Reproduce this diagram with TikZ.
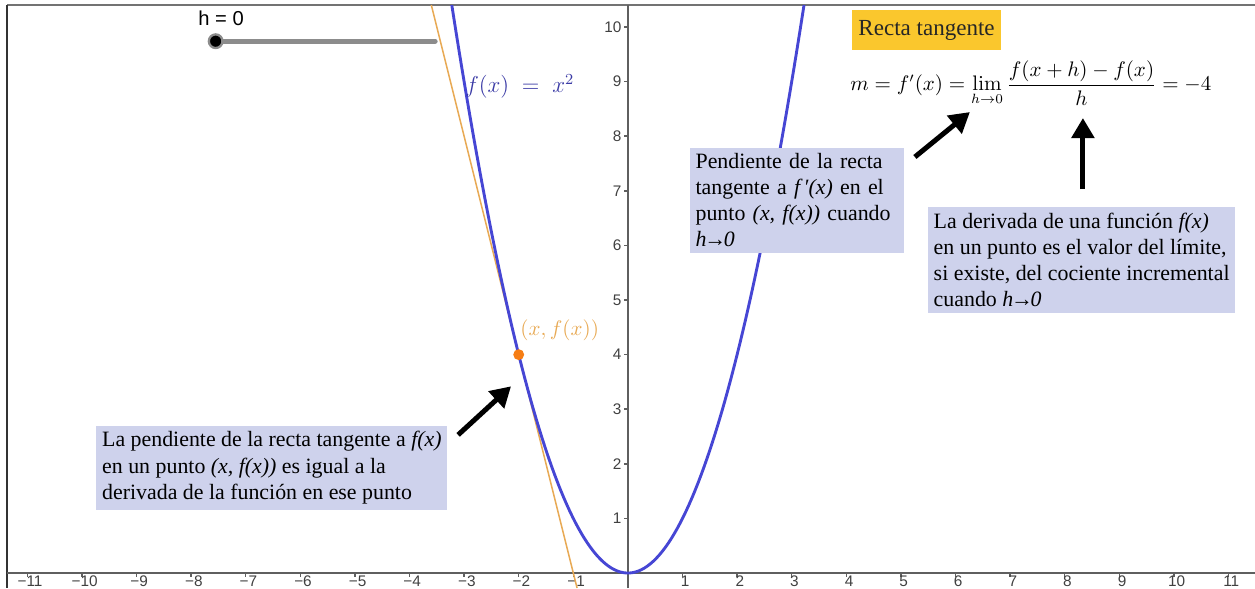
\documentclass[tikz,border=0pt]{standalone}
\usepackage[no-math]{fontspec}
\setmainfont{Liberation Serif}
\setsansfont{Liberation Sans}
\usepackage{amsmath}
\usetikzlibrary{arrows.meta, positioning}
\definecolor{curveblue}{RGB}{70,70,212}
\definecolor{labelblue}{RGB}{58,58,165}
\definecolor{tanorange}{RGB}{232,170,85}
\definecolor{ptorange}{RGB}{246,125,20}
\definecolor{boxlila}{RGB}{206,210,236}
\definecolor{titleyellow}{RGB}{250,199,45}
\definecolor{axisgray}{RGB}{95,95,95}
\newcommand{\hzero}{\textit{h\kern-1.2pt→\kern-1.2pt0}}
\tikzstyle{fatarrow} = [line width=2.6pt, -{Triangle[length=3.7mm,width=4.1mm]}]
\tikzstyle{note}     = [fill=boxlila, align=left, inner sep=3pt, font=\fontsize{11.4}{13.6}\selectfont]

\begin{document}
\begin{tikzpicture}[
        axis/.style={axisgray, line width=0.8pt},
        ticklabel/.style={font=\sffamily\fontsize{8}{9}\selectfont, text=black!75, inner sep=0pt},
        every node/.style={font=\small}
    ]

        \useasboundingbox (-11.5,-0.275) rectangle (11.485,10.495);

        % GeoGebra frame
        \draw[black!55, line width=1pt] (-11.37,10.40) -- (11.485,10.40);
        \draw[black!80, line width=1.1pt] (-11.37,10.40) -- (-11.37,-0.275);

        % axes
        \coordinate (xl) at (-11.37,0);
        \coordinate (xr) at (11.485,0);
        \coordinate (yb) at (0,-0.275);
        \coordinate (yt) at (0,10.40);
        \draw[axis] (xl) -- (xr);
        \draw[axis] (yb) -- (yt);

        \foreach \i in {1,...,11} {
            \draw[axis] (\i,0) -- (\i,-0.08);
            \draw[axis] (-\i,0) -- (-\i,-0.08);
            \node[ticklabel] at (\i+0.05,-0.15) {\i};
            \node[ticklabel] at (-\i+0.05,-0.15) {−\i};
        }
        \foreach \j in {1,...,10} {
            \draw[axis] (-0.07,\j) -- (0,\j);
            \node[ticklabel, anchor=east] at (-0.11,\j) {\j};
        }

        % curve and tangent
        \begin{scope}
            \clip (-11.37,-0.275) rectangle (11.485,10.40);
            \coordinate (tanTop) at (-3.65,10.6);
            \coordinate (tanBot) at (-0.931,-0.275);
            \draw[tanorange, line width=0.8pt] (tanTop) -- (tanBot);
            \draw[curveblue, line width=1.5pt, domain=-3.26:3.26, samples=120] plot (\x,{\x*\x});
        \end{scope}

        \node[circle, fill=ptorange, inner sep=0pt, minimum size=2mm] (P) at (-2,4) {};
        \node[text=tanorange, font=\fontsize{11}{13}\selectfont] (Plab) at (-1.25,4.45) {$(x,f(x))$};
        \node[text=labelblue, font=\fontsize{12}{14}\selectfont] (flab) at (-1.98,8.91) {$f(x)\;=\;x^2$};

        % slider h
        \coordinate (sl1) at (-3.53,9.74);
        \node[circle, fill=black, draw=black!45, line width=1.2pt, inner sep=0pt, minimum size=2.5mm] (knob) at (-7.55,9.74) {};
        \draw[black!45, line width=2.6pt, line cap=round] (knob) -- (sl1);
        \node[font=\sffamily\fontsize{10.5}{12}\selectfont] (hval) at (-7.45,10.16) {h = 0};

        % title and formula
        \node[fill=titleyellow, text=black!85, font=\fontsize{12}{14}\selectfont, minimum width=2.69cm, minimum height=0.73cm] (title) at (5.47,9.945) {Recta tangente};
        \node[font=\fontsize{10.5}{13}\selectfont] (formula) at (7.38,8.97) {$\displaystyle m=f'(x)=\lim_{h\to 0}\frac{f(x+h)-f(x)}{h}=-4$};

        % notes
        \node[note] (noteA) at (-6.52,1.93) {La pendiente de la recta tangente a \textit{f(x)}\\en un punto \textit{(x, f(x))} es igual a la\\derivada de la función en ese punto};
        \node[note, text width=3.72cm] (noteB) at (3.10,6.83) {Pendiente de la recta\\tangente a \textit{f\,′(x)} en el\\punto \textit{(x, f(x))} cuando\\\hzero};
        \node[note] (noteC) at (8.31,5.73) {La derivada de una función \textit{f(x)}\\en un punto es el valor del límite,\\si existe, del cociente incremental\\cuando \hzero};

        % arrows
        \coordinate (a1s) at (-3.11,2.53);
        \coordinate (a1e) at (-2.14,3.42);
        \coordinate (a2s) at (5.256,7.62);
        \coordinate (a2e) at (6.264,8.443);
        \coordinate (a3s) at (8.333,7.033);
        \coordinate (a3e) at (8.333,8.333);
        \draw[fatarrow] (a1s) -- (a1e);
        \draw[fatarrow] (a2s) -- (a2e);
        \draw[fatarrow] (a3s) -- (a3e);

    \end{tikzpicture}
\end{document}
